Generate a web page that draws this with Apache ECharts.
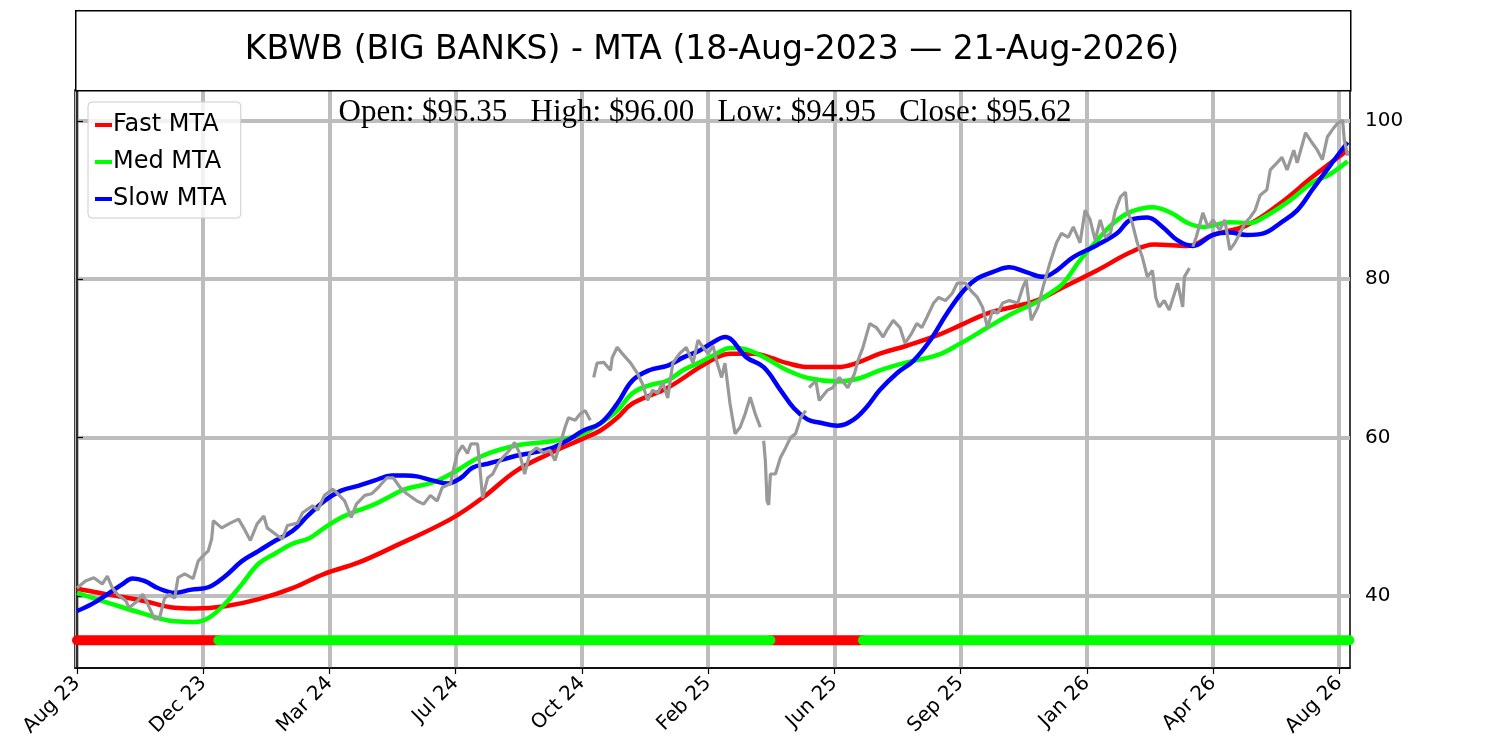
<!DOCTYPE html>
<html>
<head>
<meta charset="utf-8">
<script src="https://cdn.jsdelivr.net/npm/echarts@6/dist/echarts.min.js"></script>
<style>
	html, body { margin: 0; padding: 0; background: #fff; }
	#chart { width: 1500px; height: 750px; }
</style>
</head>
<body>
<div id="chart"></div>
<script>
// x positions are bar numbers counted from 18-Aug-2023
var tickIndex = [0, 75, 150, 225, 300, 375, 450, 525, 600, 675, 750];
var tickLabels = ['Aug 23', 'Dec 23', 'Mar 24', 'Jul 24', 'Oct 24', 'Feb 25', 'Jun 25', 'Sep 25', 'Jan 26', 'Apr 26', 'Aug 26'];
var yTicks = [40, 60, 80, 100];

var priceIdx = [0, 5, 10, 15, 18, 21, 24, 29, 31, 36, 39, 42, 46, 49, 52, 55, 58, 60, 64, 69, 72, 75, 78, 80, 81, 86, 91, 96, 99, 103,
	107, 111, 113, 118, 122, 125, 131, 134, 140, 143, 147, 152, 155, 159, 163, 166, 171, 175, 179, 184, 188, 192, 196, 202, 206, 210, 214, 217, 222, 223,
	226, 229, 232, 234, 238, 239, 241, 244, 247, 250, 253, 257, 260, 263, 266, 269, 273, 277, 281, 284, 287, 290, 292, 296, 299, 302, 305, 306, 307, 309,
	313, 317, 318, 321, 324, 329, 333, 336, 339, 342, 345, 348, 351, 354, 358, 362, 366, 369, 372, 375, 378, 380, 383, 385, 388, 391, 394, 397, 400, 403,
	406, 407, 408, 409, 410, 411, 412, 415, 418, 421, 424, 427, 430, 433, 434, 435, 439, 441, 446, 449, 453, 458, 462, 464, 467, 471, 475, 479, 481, 485,
	489, 492, 496, 499, 502, 505, 509, 512, 516, 520, 523, 528, 531, 535, 538, 541, 544, 547, 550, 554, 559, 562, 564, 567, 571, 574, 578, 582, 585, 589,
	592, 596, 599, 602, 605, 608, 611, 614, 617, 620, 623, 624, 627, 630, 633, 636, 639, 641, 643, 646, 649, 654, 657, 658, 661, 662, 663, 665, 669, 672,
	675, 679, 682, 685, 688, 691, 694, 697, 700, 703, 707, 709, 713, 716, 719, 723, 725, 730, 734, 737, 740, 743, 746, 749, 752, 753, 755];
var priceVal = [41.0, 41.9, 42.3, 41.5, 42.5, 41.0, 40.2, 39.4, 38.5, 39.4, 40.2, 39.0, 37.1, 37.2, 39.7, 40.2, 39.7, 42.3, 42.8, 42.2, 44.4, 45.1, 45.7, 47.2, 49.5, 48.6, 49.2, 49.7, 48.6, 47.0,
	49.1, 50.1, 48.6, 47.8, 47.2, 48.9, 49.2, 50.5, 51.4, 50.8, 52.7, 53.5, 52.9, 52.0, 49.9, 51.6, 52.7, 52.9, 53.7, 54.9, 54.9, 53.7, 52.9, 52.0, 51.6, 52.7, 52.0, 53.7, 54.2, 55.4,
	58.0, 59.0, 58.0, 59.2, 59.2, 57.1, 52.4, 54.9, 55.4, 56.7, 57.5, 58.4, 59.4, 58.0, 55.4, 58.0, 58.7, 58.1, 58.4, 57.1, 59.2, 61.3, 62.5, 62.2, 63.0, 63.4, 62.2, null, 67.6, 69.4,
	69.5, 68.5, 70.1, 71.4, 70.6, 69.4, 68.1, 66.8, 64.7, 66.0, 65.6, 67.0, 65.0, 69.4, 70.6, 71.4, 69.4, 72.3, 71.4, 70.6, 71.6, 69.7, 67.6, 69.4, 64.3, 60.5, 61.3, 63.0, 65.1, 63.0,
	61.3, null, 59.6, 57.1, 52.0, 51.5, 55.4, 55.4, 57.5, 58.7, 60.0, 60.5, 62.5, 63.4, null, 66.3, 67.2, 64.7, 66.0, 66.3, 67.6, 66.3, 68.1, 69.7, 71.4, 74.4, 73.9, 72.7, 73.5, 74.8,
	73.9, 71.9, 73.2, 74.4, 73.9, 75.2, 77.0, 77.7, 77.3, 78.2, 79.5, 79.5, 78.6, 77.7, 76.5, 73.9, 76.1, 75.7, 77.0, 77.3, 77.0, 79.0, 79.9, 74.8, 76.5, 79.0, 82.0, 84.6, 85.8, 85.3,
	86.6, 84.6, 88.7, 87.5, 84.9, 87.5, 85.3, 85.8, 88.7, 90.4, 91.0, 88.7, 87.1, 84.6, 82.8, 80.3, 81.1, 77.7, 76.5, 77.3, 76.1, 79.5, 76.5, 80.3, 81.4, null, 84.1, 85.3, 88.4, 86.6,
	87.5, 86.2, 87.5, 83.7, 84.6, 85.8, 87.1, 87.8, 88.7, 90.6, 91.3, 93.8, 94.7, 95.4, 93.8, 96.3, 94.7, 98.5, 97.2, 96.3, 95.1, 98.0, 98.9, 99.7, 100.1, 97.6, 95.6];

var fastIdx = [0, 18, 39, 58, 70, 88, 108, 128, 147, 167, 187, 222, 241, 261, 281, 301, 311, 321, 330, 351, 370, 380, 388, 402, 412, 422, 435, 452, 463, 477,
	493, 511, 525, 541, 556, 570, 586, 606, 626, 640, 660, 675, 695, 715, 734, 755];
var fastVal = [40.9, 40.2, 39.4, 38.5, 38.4, 38.7, 39.6, 41.0, 42.8, 44.2, 46.1, 49.7, 52.4, 55.8, 58.0, 59.9, 60.9, 62.5, 64.3, 66.3, 68.9, 70.1, 70.6, 70.6, 70.1, 69.4, 68.9, 68.9, 69.4, 70.6,
	71.6, 72.9, 74.2, 75.7, 76.5, 77.3, 79.0, 81.1, 83.4, 84.4, 84.2, 85.6, 86.8, 89.6, 92.9, 96.3];

var medIdx = [0, 19, 39, 58, 70, 78, 88, 98, 108, 118, 128, 138, 147, 157, 167, 177, 187, 195, 211, 222, 241, 261, 281, 291, 301, 311, 321, 330, 340, 351,
	360, 370, 380, 388, 392, 402, 412, 422, 435, 452, 465, 477, 493, 511, 525, 541, 556, 570, 578, 586, 596, 606, 616, 626, 639, 650, 660, 669, 685, 697,
	705, 721, 734, 744, 755];
var medVal = [40.4, 39.1, 37.8, 36.8, 36.7, 37.2, 39.0, 41.5, 44.1, 45.4, 46.6, 47.3, 48.6, 49.9, 50.8, 51.6, 52.7, 53.5, 54.3, 55.4, 57.7, 59.0, 59.5, 59.9, 60.5, 61.8, 63.4, 65.6, 66.6, 67.2,
	68.5, 69.5, 70.6, 71.3, 71.3, 70.8, 69.7, 68.5, 67.5, 67.1, 67.5, 68.5, 69.5, 70.4, 71.9, 73.9, 75.7, 77.1, 78.2, 79.5, 82.4, 84.9, 87.1, 88.5, 89.1, 88.4, 87.1, 86.6, 87.2, 87.1,
	87.8, 90.0, 92.2, 93.2, 94.9];

var slowIdx = [0, 9, 18, 27, 33, 40, 48, 58, 68, 78, 88, 98, 108, 118, 128, 137, 147, 157, 167, 177, 187, 195, 202, 211, 220, 228, 235, 244, 251, 261,
	271, 281, 291, 301, 311, 321, 330, 340, 351, 360, 370, 380, 385, 398, 408, 418, 426, 434, 441, 452, 461, 469, 477, 487, 497, 507, 517, 527, 535, 544,
	554, 564, 574, 582, 592, 606, 618, 626, 636, 645, 654, 663, 675, 685, 695, 705, 715, 725, 734, 744, 755];
var slowVal = [38.1, 39.0, 40.2, 41.5, 42.2, 41.9, 41.0, 40.4, 40.8, 41.1, 42.5, 44.4, 45.7, 47.0, 48.2, 50.1, 52.0, 53.3, 53.9, 54.6, 55.2, 55.2, 55.1, 54.6, 54.2, 54.9, 56.2, 56.7, 57.1, 57.7,
	58.1, 58.6, 59.6, 60.9, 61.8, 64.3, 67.2, 68.5, 69.1, 70.1, 71.0, 72.3, 72.7, 70.1, 68.9, 66.0, 63.7, 62.3, 61.9, 61.5, 62.2, 63.8, 66.0, 68.1, 69.7, 72.3, 75.7, 78.6, 80.1, 80.9,
	81.5, 80.9, 80.3, 81.1, 82.8, 84.3, 85.8, 87.5, 87.8, 86.6, 84.9, 84.2, 85.6, 85.9, 85.6, 85.8, 87.1, 88.7, 91.3, 94.2, 97.3];

// signal strip: [from, to] bar numbers, red = bearish, green = bullish
var signalLevel = 34.4;
var redSpans = [[0, 84], [412, 467]];
var greenSpans = [[84, 412], [467, 756]];

var ohlc = { open: '95.35', high: '96.00', low: '94.95', close: '95.62' };

function pairs(idx, val) {
	var out = [];
	for (var i = 0; i < idx.length; i++) {
		out.push([idx[i], val[i] == null ? '-' : val[i]]);
	}
	return out;
}

function spanSeries(spans, color) {
	var list = [];
	spans.forEach(function(s) {
		list.push({
			type: 'line',
			data: [[s[0], signalLevel], [s[1], signalLevel]],
			showSymbol: false,
			silent: true,
			lineStyle: { color: color, width: 10, cap: 'round' },
			z: 3
		});
	});
	return list;
}

var chart = echarts.init(document.getElementById('chart'), null, { renderer: 'canvas' });

var series = [];
series = series.concat(spanSeries(redSpans, '#ff0000'));
series = series.concat(spanSeries(greenSpans, '#00ff00'));
series.push({
	name: 'Fast MTA', type: 'line', data: pairs(fastIdx, fastVal), smooth: 0.4,
	showSymbol: false, lineStyle: { color: '#ff0000', width: 4.5 }, itemStyle: { color: '#ff0000' }, z: 4
});
series.push({
	name: 'Med MTA', type: 'line', data: pairs(medIdx, medVal), smooth: 0.4,
	showSymbol: false, lineStyle: { color: '#00ff00', width: 4.5 }, itemStyle: { color: '#00ff00' }, z: 5
});
series.push({
	name: 'Slow MTA', type: 'line', data: pairs(slowIdx, slowVal), smooth: 0.4,
	showSymbol: false, lineStyle: { color: '#0000ff', width: 4.5 }, itemStyle: { color: '#0000ff' }, z: 6
});
series.push({
	name: 'Price', type: 'line', data: pairs(priceIdx, priceVal),
	showSymbol: false, connectNulls: false,
	lineStyle: { color: '#999999', width: 3.2 }, z: 7
});

var options = {
	animation: false,
	backgroundColor: '#ffffff',
	textStyle: { fontFamily: 'DejaVu Sans' },
	grid: {
		left: 75, right: 150, top: 90, bottom: 82,
		show: true, borderColor: '#000', borderWidth: 1.5, backgroundColor: 'transparent'
	},
	legend: {
		data: ['Fast MTA', 'Med MTA', 'Slow MTA'],
		orient: 'vertical',
		left: 88, top: 102,
		padding: [9, 14, 5, 7],
		itemGap: 9,
		itemWidth: 17, itemHeight: 4,
		icon: 'rect',
		backgroundColor: 'rgba(255,255,255,0.8)',
		borderColor: '#cccccc', borderWidth: 1, borderRadius: 4,
		textStyle: { fontFamily: 'DejaVu Sans', fontSize: 24, color: '#000', lineHeight: 28, padding: [0, 0, 0, -4] }
	},
	xAxis: {
		type: 'value',
		min: -1.2, max: 756.4,
		axisLine: { show: true, onZero: false, lineStyle: { color: '#000', width: 1.5 } },
		axisTick: { show: true, length: 6, lineStyle: { color: '#000', width: 1.2 }, customValues: tickIndex },
		axisLabel: {
			customValues: tickIndex,
			rotate: 45, fontSize: 20, color: '#000', fontFamily: 'DejaVu Sans', margin: 12,
			formatter: function(v) {
				var k = tickIndex.indexOf(Math.round(v));
				return k >= 0 ? tickLabels[k] : '';
			}
		},
		splitLine: { show: true, lineStyle: { color: '#bdbdbd', width: 4 } }
	},
	yAxis: {
		type: 'value',
		position: 'right',
		min: 30.9, max: 103.9,
		axisLine: { show: true, lineStyle: { color: '#000', width: 1.5 } },
		axisTick: { show: true, length: 6, lineStyle: { color: '#000', width: 1.2 }, customValues: yTicks },
		axisLabel: { customValues: yTicks, fontSize: 20, color: '#000', fontFamily: 'DejaVu Sans', margin: 15 },
		splitLine: { show: true, lineStyle: { color: '#bdbdbd', width: 4 } }
	},
	graphic: [
		{
			type: 'rect', left: 75, top: 10, z: 10,
			shape: { width: 1275, height: 80 },
			style: { fill: '#fff', stroke: '#000', lineWidth: 1.5 }
		},
		{
			type: 'text', x: 712, y: 50, z: 11,
			style: {
				text: 'KBWB (BIG BANKS) - MTA (18-Aug-2023 \u2014 21-Aug-2026)',
				font: '33px "DejaVu Sans"', fill: '#000', align: 'center', verticalAlign: 'middle'
			}
		},
		{
			type: 'text', x: 705, y: 113, z: 11,
			style: {
				text: 'Open: $' + ohlc.open + '   High: $' + ohlc.high + '   Low: $' + ohlc.low + '   Close: $' + ohlc.close,
				font: '31px "Liberation Serif"', fill: '#000', align: 'center', verticalAlign: 'middle'
			}
		}
	],
	series: series
};

chart.setOption(options);
</script>
</body>
</html>
